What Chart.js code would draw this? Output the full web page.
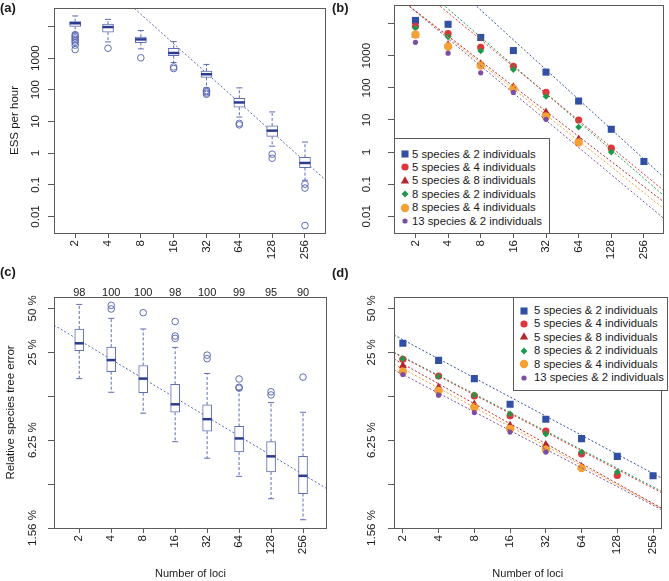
<!DOCTYPE html>
<html>
<head>
<meta charset="utf-8">
<script src="https://cdn.jsdelivr.net/npm/chart.js@4.4.0/dist/chart.umd.min.js"></script>
<style>
  body { margin: 0; background: #fff; width: 669px; height: 581px; position: relative; overflow: hidden;
         font-family: "Liberation Sans", Arial, Helvetica, sans-serif; color: #1a1a1a; }
  canvas { position: absolute; }
  .tag { position: absolute; font-size: 13px; font-weight: bold; line-height: 16px; }
  .legend { position: absolute; border: 1px solid #5a5a5a; background: #fff; box-sizing: border-box; }
  .legend .row { position: absolute; white-space: nowrap; font-size: 11.3px; line-height: 13px; }
  .legend svg { position: absolute; }
</style>
</head>
<body>
<canvas id="pa" width="334" height="270" style="left:0;top:0"></canvas>
<canvas id="pb" width="335" height="270" style="left:334px;top:0"></canvas>
<canvas id="pc" width="334" height="311" style="left:0;top:270px"></canvas>
<canvas id="pd" width="335" height="311" style="left:334px;top:270px"></canvas>
<div class="tag" style="left:0;top:0">(a)</div>
<div class="tag" style="left:332px;top:0">(b)</div>
<div class="tag" style="left:0;top:264px">(c)</div>
<div class="tag" style="left:332px;top:265px">(d)</div>
<div id="legB" class="legend" style="left:394px;top:138px;width:156px;height:96px"></div>
<div id="legD" class="legend" style="left:513px;top:297px;width:155px;height:94px"></div>
<script>
const loci = [2, 4, 8, 16, 32, 64, 128, 256];
const lociPos = loci.map(Math.log2);

// (a) ESS per hour, boxplots
const essLow  = [6300, 3240, 1950, 725, 115, 13.8, 1.66, 0.14];
const essQ1   = [10000, 6600, 3090, 1200, 245, 28.2, 3.39, 0.35];
const essMed  = [12600, 9550, 3890, 1450, 309, 39.8, 5.13, 0.49];
const essQ3   = [14100, 11750, 4570, 2040, 389, 53.7, 7.24, 0.74];
const essHigh = [21400, 16600, 7410, 3310, 631, 115, 20, 2.24];
const essOut  = [[5500, 4900, 4370, 3890, 3470, 3090, 2570, 1860], [2040], [1020], [525, 468],
                 [95, 87, 79, 72], [8.7, 7.8], [0.93, 0.69], [0.105, 0.079, 0.0052]];
const essFit  = [7.174, -0.9297];   // log10(ESS) = a + b * log2(loci)

// (b) ESS per hour by data set
const seriesNames  = ['5 species & 2 individuals', '5 species & 4 individuals', '5 species & 8 individuals',
                      '8 species & 2 individuals', '8 species & 4 individuals', '13 species & 2 individuals'];
const seriesColors = ['#3250a3', '#e0363b', '#b5272c', '#1b9a4b', '#f5a134', '#7d4fa3'];
const seriesShapes = ['rect', 'circle', 'triangle', 'rectRot', 'circle', 'circle'];
const seriesSizes  = [5, 3.6, 4.8, 3.4, 4.2, 2.6];
const ess5x2  = [12600, 9550, 3720, 1450, 309, 38.9, 5.13, 0.51];
const ess5x4  = [8300, 4900, 1820, 468, 72, 10, 1.32, null];
const ess5x8  = [4370, 2190, 550, 107, 17.4, 2.5, null, null];
const ess8x2  = [7400, 3890, 1410, 372, 54, 6.0, 1.0, null];
const ess8x4  = [4570, 1950, 500, 95, 12.9, 2.0, null, null];
const ess13x2 = [2630, 1200, 295, 72, 10.5, null, null, null];
const essFitA = [7.21, 6.015, 5.178, 6.216, 5.197, 5.226];
const essFitB = [-0.9285, -0.838, -0.7815, -0.879, -0.808, -0.847];

// (c) relative species tree error (%), boxplots
const errLow  = [16.5, 13.3, 9.56, 6.1, 4.7, 3.53, 2.48, 1.78];
const errQ1   = [25.6, 18.4, 13.2, 9.7, 7.2, 5.18, 3.78, 2.69];
const errMed  = [28.8, 22.1, 16.5, 11.0, 8.7, 6.42, 4.84, 3.56];
const errQ3   = [36.1, 27.1, 20.3, 15.1, 10.9, 7.76, 6.1, 4.84];
const errHigh = [53.2, 42.7, 36.1, 27.0, 17.9, 13.8, 11.3, 9.7];
const errOut  = [[], [52.4, 49.5], [46.7], [40.6, 32.3, 31.1], [23.9, 22.6], [16.4, 14.4, 14.2], [13.4, 12.75], [16.9]];
const errRuns = [98, 100, 100, 98, 100, 99, 95, 90];
const errFit  = [5.355, -0.4364];   // log2(error) = a + b * log2(loci)

// (d) relative species tree error by data set
const err5x2  = [28.8, 22.0, 16.5, 11.0, 8.7, 6.4, 4.84, 3.56];
const err5x4  = [22.4, 17.2, 12.55, 9.17, 7.2, 5.04, 3.58, null];
const err5x8  = [20.2, 14.4, 11.0, 7.88, 5.81, 4.1, null, null];
const err8x2  = [22.6, 17.1, 12.75, 9.46, 6.88, 5.18, 3.78, null];
const err8x4  = [18.4, 13.6, 10.5, 7.47, 5.37, 4.02, null, null];
const err13x2 = [17.6, 12.7, 9.66, 7.1, 5.18, null, null, null];
const errFitA = [5.365, 4.95, 4.833, 4.962, 4.71, 4.563];
const errFitB = [-0.435, -0.425, -0.4537, -0.4227, -0.44, -0.4252];

// axis ticks
const essTicks = [10000, 1000, 100, 10, 1, 0.1, 0.01];
const essTickLabels = [[1000, '1000'], [100, '100'], [10, '10'], [1, '1'], [0.1, '0.1'], [0.01, '0.01']];
const errTicks = [50, 25, 12.5, 6.25, 3.125, 1.5625];
const errTickLabels = [[50, '50 %'], [25, '25 %'], [6.25, '6.25 %'], [1.5625, '1.56 %']];

const FONT = '"Liberation Sans", Arial, Helvetica, sans-serif';
const TICK = 11.5;
const INK = '#1a1a1a';
const FRAME = '#5a5a5a';
const BOXC = '#5e6db6';
const MEDC = '#2b3b8f';

function boxDatasets(low, q1, med, q3, high, outl, width) {
  const whisk = [];
  lociPos.forEach((x, i) => {
    whisk.push({x, y: q3[i]}, {x, y: high[i]}, {x, y: null}, {x, y: q1[i]}, {x, y: low[i]}, {x, y: null});
  });
  const caps = lociPos.flatMap((x, i) => [{x, y: low[i]}, {x, y: high[i]}]);
  const outs = lociPos.flatMap((x, i) => outl[i].map(y => ({x, y})));
  return [
    {type: 'line', data: whisk, borderColor: BOXC, borderWidth: 1, borderDash: [3, 2], pointRadius: 0, order: 4},
    {type: 'bar', data: lociPos.map((x, i) => ({x, y: [q1[i], q3[i]]})), backgroundColor: '#fff',
     borderColor: BOXC, borderWidth: 1, borderSkipped: false, barThickness: width, grouped: false, order: 3},
    {type: 'scatter', data: lociPos.map((x, i) => ({x, y: med[i]})), pointStyle: 'line',
     pointRadius: width / 2, borderColor: MEDC, borderWidth: 2.5, order: 1},
    {type: 'scatter', data: caps, pointStyle: 'line', pointRadius: 3, borderColor: BOXC, borderWidth: 1, order: 2},
    {type: 'scatter', data: outs, pointStyle: 'circle', pointRadius: 3.3, borderColor: BOXC,
     backgroundColor: 'rgba(0,0,0,0)', borderWidth: 1, order: 2}
  ];
}

function fitLine(a, b, xMin, xMax, base, color) {
  return {type: 'line', data: [xMin, xMax].map(x => ({x, y: Math.pow(base, a + b * x)})),
          borderColor: color, borderWidth: 1, borderDash: [2, 2], pointRadius: 0, order: 6};
}

function seriesDatasets(list) {
  return list.map((vals, i) => ({
    type: 'scatter',
    data: lociPos.map((x, j) => ({x, y: vals[j]})).filter(p => p.y !== null),
    pointStyle: seriesShapes[i], pointRadius: seriesSizes[i],
    backgroundColor: seriesColors[i], borderColor: seriesColors[i], borderWidth: 0,
    order: 10 - i
  }));
}

function framePlugin(yLabels, dist) {
  return {
    id: 'frameLabels',
    afterDatasetsDraw(chart) {
      const {ctx, chartArea: a, scales} = chart;
      ctx.save();
      ctx.strokeStyle = FRAME;
      ctx.lineWidth = 1;
      ctx.strokeRect(Math.round(a.left) + 0.5, Math.round(a.top) + 0.5,
                     Math.round(a.right - a.left) - 1, Math.round(a.bottom - a.top));
      ctx.fillStyle = INK;
      ctx.font = TICK + 'px ' + FONT;
      ctx.textAlign = 'center';
      ctx.textBaseline = 'middle';
      yLabels.forEach(([v, t]) => {
        ctx.save();
        ctx.translate(a.left - dist, scales.y.getPixelForValue(v));
        ctx.rotate(-Math.PI / 2);
        ctx.fillText(t, 0, 0);
        ctx.restore();
      });
      ctx.restore();
    }
  };
}

function panel(id, o) {
  const scales = {
    x: {
      type: 'linear', min: o.xMin, max: o.xMax, offset: false,
      afterBuildTicks: s => { s.ticks = lociPos.map(v => ({value: v})); },
      afterFit: s => { s.height = o.xH; },
      ticks: {callback: (v, i) => String(loci[i]), minRotation: 90, maxRotation: 90, autoSkip: false,
              padding: 2, color: INK, font: {family: FONT, size: TICK}},
      grid: {drawOnChartArea: false, offset: false, tickLength: 5, color: FRAME},
      border: {display: false},
      title: {display: !!o.xTitle, text: o.xTitle || '', color: INK, font: {family: FONT, size: 11},
              padding: {top: 0, bottom: 0}}
    },
    y: {
      type: 'logarithmic', min: o.yMin, max: o.yMax,
      afterBuildTicks: s => { s.ticks = o.yTicks.map(v => ({value: v})); },
      afterFit: s => { s.width = o.yW; },
      ticks: {display: false},
      grid: {drawOnChartArea: false, tickLength: 6, color: FRAME},
      border: {display: false},
      title: {display: !!o.yTitle, text: o.yTitle || '', color: INK, font: {family: FONT, size: 11.5},
              padding: {top: o.yTitlePad || 0, bottom: 0}}
    }
  };
  if (o.topLabels) {
    scales.xTop = {
      type: 'linear', position: 'top', min: o.xMin, max: o.xMax, offset: false,
      afterBuildTicks: s => { s.ticks = lociPos.map(v => ({value: v})); },
      afterFit: s => { s.height = o.topH; },
      ticks: {callback: (v, i) => String(o.topLabels[i]), minRotation: 0, maxRotation: 0, autoSkip: false,
              padding: -3, color: INK, font: {family: FONT, size: 11}},
      grid: {display: false, drawTicks: false},
      border: {display: false}
    };
  }
  return new Chart(document.getElementById(id), {
    type: 'scatter',
    data: {datasets: o.datasets},
    options: {
      responsive: false, animation: false, devicePixelRatio: 1, events: [],
      layout: {padding: o.pad},
      plugins: {legend: {display: false}, tooltip: {enabled: false}},
      scales
    },
    plugins: [framePlugin(o.yLabels, o.yDist)]
  });
}

// (a)
const aX = [0.355, 8.64];
panel('pa', {
  xMin: aX[0], xMax: aX[1], yMin: 0.00302, yMax: 38100, yTicks: essTicks, yLabels: essTickLabels, yDist: 18,
  yTitle: 'ESS per hour', yTitlePad: 8, yW: 54, xH: 37, pad: {left: 0, top: 1, right: 7, bottom: 0},
  datasets: [fitLine(essFit[0], essFit[1], aX[0], aX[1], 10, '#5867ad'),
             ...boxDatasets(essLow, essQ1, essMed, essQ3, essHigh, essOut, 11)]
});

// (b)
const bX = [0.343, 8.615];
panel('pb', {
  xMin: bX[0], xMax: bX[1], yMin: 0.00302, yMax: 38100, yTicks: essTicks, yLabels: essTickLabels, yDist: 27,
  yW: 60, xH: 37, pad: {left: 0, top: 1, right: 2, bottom: 0},
  datasets: [...essFitA.map((a, i) => fitLine(a, essFitB[i], bX[0], bX[1], 10, seriesColors[i])),
             ...seriesDatasets([ess5x2, ess5x4, ess5x8, ess8x2, ess8x4, ess13x2])]
});

// (c)
const cX = [0.21, 8.75];
panel('pc', {
  xMin: cX[0], xMax: cX[1], yMin: 1.5625, yMax: 59.8, yTicks: errTicks, yLabels: errTickLabels, yDist: 21,
  yTitle: 'Relative species tree error', yTitlePad: 4, xTitle: 'Number of loci',
  yW: 54, xH: 53, topH: 27, topLabels: errRuns, pad: {left: 0, top: 0, right: 7, bottom: 0},
  datasets: [fitLine(errFit[0], errFit[1], cX[0], cX[1], 2, '#5867ad'),
             ...boxDatasets(errLow, errQ1, errMed, errQ3, errHigh, errOut, 9)]
});

// (d)
const dX = [0.752, 8.24];
panel('pd', {
  xMin: dX[0], xMax: dX[1], yMin: 1.5625, yMax: 59.8, yTicks: errTicks, yLabels: errTickLabels, yDist: 22,
  xTitle: 'Number of loci', yW: 60, xH: 53, pad: {left: 0, top: 27, right: 2, bottom: 0},
  datasets: [...errFitA.map((a, i) => fitLine(a, errFitB[i], dX[0], dX[1], 2, seriesColors[i])),
             ...seriesDatasets([err5x2, err5x4, err5x8, err8x2, err8x4, err13x2])]
});

// legends
function symbol(shape, color, r) {
  const c = 6;
  if (shape === 'rect') {
    const h = r * Math.SQRT1_2;
    return `<rect x="${c - h}" y="${c - h}" width="${2 * h}" height="${2 * h}" fill="${color}"/>`;
  }
  if (shape === 'triangle') {
    const p = [0, 1, 2].map(k => {
      const t = k * 2 * Math.PI / 3;
      return `${c + Math.sin(t) * r},${c - Math.cos(t) * r}`;
    }).join(' ');
    return `<polygon points="${p}" fill="${color}"/>`;
  }
  if (shape === 'rectRot') {
    return `<polygon points="${c},${c - r} ${c + r},${c} ${c},${c + r} ${c - r},${c}" fill="${color}"/>`;
  }
  return `<circle cx="${c}" cy="${c}" r="${r}" fill="${color}"/>`;
}

function buildLegend(id, firstRow, step, symX, textX) {
  const box = document.getElementById(id);
  seriesNames.forEach((name, i) => {
    const y = firstRow + i * step;
    const svg = document.createElementNS('http://www.w3.org/2000/svg', 'svg');
    svg.setAttribute('width', 12);
    svg.setAttribute('height', 12);
    svg.style.left = (symX - 6) + 'px';
    svg.style.top = (y - 6) + 'px';
    svg.innerHTML = symbol(seriesShapes[i], seriesColors[i], seriesSizes[i]);
    box.appendChild(svg);
    const row = document.createElement('div');
    row.className = 'row';
    row.style.left = textX + 'px';
    row.style.top = (y - 6.5) + 'px';
    row.textContent = name;
    box.appendChild(row);
  });
}
buildLegend('legB', 15, 13.4, 10, 17);
buildLegend('legD', 12.5, 13.4, 9.5, 20);
</script>
</body>
</html>
